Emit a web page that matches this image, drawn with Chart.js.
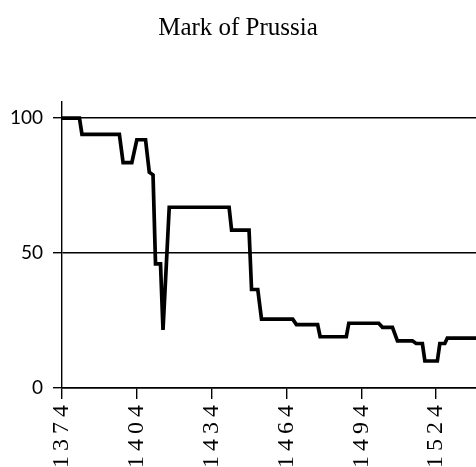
<!DOCTYPE html>
<html>
<head>
<meta charset="utf-8">
<script src="https://cdn.jsdelivr.net/npm/chart.js@4/dist/chart.umd.min.js"></script>
<style>
  html, body { margin: 0; padding: 0; background: #fff; overflow: hidden; }
  #wrap { width: 476px; height: 467px; }
</style>
</head>
<body>
<div id="wrap"><canvas id="c" width="476" height="467"></canvas></div>
<script>
// Chart data (vertices of the plotted line)
const years = [1374, 1381, 1382, 1397, 1398.5, 1402, 1404, 1407.5, 1409, 1410.5,
               1411.5, 1413.5, 1414.5, 1417, 1441, 1442, 1449, 1450, 1452.5, 1454,
               1466.5, 1468, 1476.5, 1477.5, 1488, 1489, 1501, 1502.5, 1506.5, 1508.5,
               1514.5, 1516, 1518.5, 1519.5, 1524.5, 1525.5, 1527.5, 1528.5, 1540];
const values = [100, 100, 94, 94, 83.5, 83.5, 92, 92, 80, 79,
                46, 46, 21.5, 67, 67, 58.5, 58.5, 36.5, 36.5, 25.5,
                25.5, 23.5, 23.5, 19, 19, 24, 24, 22.5, 22.5, 17.5,
                17.5, 16.5, 16.5, 10, 10, 16.5, 16.5, 18.5, 18.5];
const xTickLabels = [1374, 1404, 1434, 1464, 1494, 1524];
const yTickLabels = [0, 50, 100];
const chartTitle = 'Mark of Prussia';

const points = years.map((yr, i) => ({ x: yr, y: values[i] }));

// widen the letter spacing of the rotated year labels only
function spaceLabels(s) {
  if (s._spaced) return;
  s._spaced = true;
  const orig = s.drawLabels.bind(s);
  s.drawLabels = function (area) {
    const ctx = this.ctx;
    const prev = ctx.letterSpacing;
    ctx.letterSpacing = '5px';
    orig(area);
    ctx.letterSpacing = prev || '0px';
  };
}

new Chart(document.getElementById('c'), {
  type: 'line',
  data: {
    datasets: [{
      data: points,
      borderColor: '#000',
      borderWidth: 3.7,
      pointRadius: 0,
      tension: 0,
      fill: false
    }]
  },
  options: {
    responsive: false,
    animation: false,
    devicePixelRatio: 1,
    layout: { padding: 0 },
    plugins: {
      legend: { display: false },
      tooltip: { enabled: false },
      title: {
        display: true,
        text: chartTitle,
        color: '#000',
        font: { family: '"Liberation Serif", serif', size: 25, weight: 'normal', lineHeight: 1.2 },
        padding: { top: 13, bottom: 59 }
      }
    },
    scales: {
      x: {
        type: 'linear',
        min: 1374,
        max: 1540,
        afterBuildTicks: s => { s.ticks = xTickLabels.map(v => ({ value: v })); },
        afterFit: s => { s.height = 79; spaceLabels(s); },
        grid: { drawOnChartArea: false, drawTicks: true, tickLength: 11, color: '#000', lineWidth: 1.4 },
        border: { color: '#000', width: 1.4 },
        ticks: {
          autoSkip: false,
          minRotation: 90,
          maxRotation: 90,
          padding: 1,
          color: '#000',
          font: { family: '"Liberation Serif", serif', size: 24 },
          callback: v => String(v)
        }
      },
      y: {
        min: 0,
        max: 106,
        afterBuildTicks: s => { s.ticks = yTickLabels.map(v => ({ value: v })); },
        afterFit: s => { s.width = 62; },
        grid: { color: '#000', lineWidth: 1.4, tickLength: 9 },
        border: { color: '#000', width: 1.4 },
        ticks: {
          padding: 10,
          color: '#000',
          font: { family: 'Lato, sans-serif', size: 19 },
          callback: v => String(v)
        }
      }
    }
  }
});
</script>
</body>
</html>
